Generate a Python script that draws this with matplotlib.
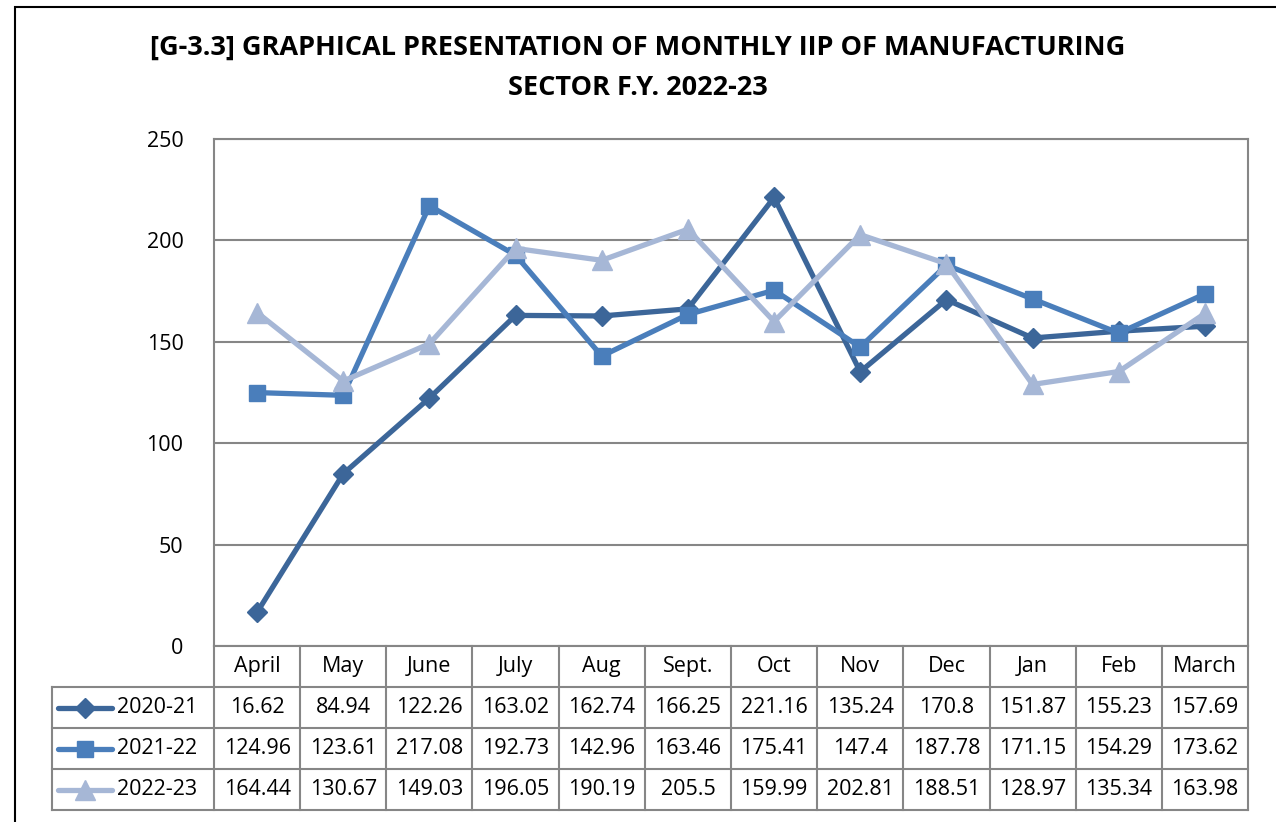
import numpy as np
import matplotlib.pyplot as plt
from matplotlib.lines import Line2D
from matplotlib.patches import Rectangle
from matplotlib.transforms import blended_transform_factory

plt.rcParams["font.family"] = ["Open Sans", "DejaVu Sans"]

months = ["April", "May", "June", "July", "Aug", "Sept.", "Oct", "Nov", "Dec", "Jan", "Feb", "March"]
series_names = ["2020-21", "2021-22", "2022-23"]
iip_2020_21 = [16.62, 84.94, 122.26, 163.02, 162.74, 166.25, 221.16, 135.24, 170.8, 151.87, 155.23, 157.69]
iip_2021_22 = [124.96, 123.61, 217.08, 192.73, 142.96, 163.46, 175.41, 147.4, 187.78, 171.15, 154.29, 173.62]
iip_2022_23 = [164.44, 130.67, 149.03, 196.05, 190.19, 205.5, 159.99, 202.81, 188.51, 128.97, 135.34, 163.98]

W, H = 1276, 822
fig = plt.figure(figsize=(W / 100, H / 100), dpi=100)


def fx(px):
    return px / W


def fy(py):
    return 1 - py / H


# outer chart border
fig.patches.append(Rectangle((fx(15), fy(H + 10)), 1.0, fy(7) - fy(H + 10),
                             transform=fig.transFigure, fill=False,
                             edgecolor="black", linewidth=1.5))

left, right, top, bottom = 214, 1248, 139, 646
ax = fig.add_axes([fx(left), fy(bottom), fx(right) - fx(left), fy(top) - fy(bottom)])

styles = [
    dict(color="#3C6699", marker="D", markersize=10),
    dict(color="#4A7EBB", marker="s", markersize=12),
    dict(color="#A6B7D6", marker="^", markersize=14),
]
data = [iip_2020_21, iip_2021_22, iip_2022_23]
x = np.arange(len(months))
for vals, st in zip(data, styles):
    ax.plot(x, vals, linewidth=3.8, color=st["color"], marker=st["marker"],
            markersize=st["markersize"], markeredgecolor=st["color"], zorder=3)

ax.set_xlim(-0.5, len(months) - 0.5)
ax.set_ylim(0, 250)
ax.set_yticks([0, 50, 100, 150, 200, 250])
ax.set_xticks([])
ax.yaxis.grid(True, color="#868686", linewidth=1.5)
ax.set_axisbelow(True)
for s in ax.spines.values():
    s.set_color("#868686")
    s.set_linewidth(1.5)
ax.tick_params(axis="y", length=0, pad=22, labelsize=15.5)

fig.text(0.5, fy(48), "[G-3.3] GRAPHICAL PRESENTATION OF MONTHLY IIP OF MANUFACTURING",
         ha="center", va="center", fontsize=19.5, fontweight="bold")
fig.text(0.5, fy(88), "SECTOR F.Y. 2022-23",
         ha="center", va="center", fontsize=19.5, fontweight="bold")

# data table under the plot
grid_c = "#868686"
row_lines = [646, 687, 728, 769, 810]
tr = blended_transform_factory(ax.transData, fig.transFigure)
for i in range(len(months) + 1):
    fig.add_artist(Line2D([fx(left + i * (right - left) / len(months))] * 2,
                          [fy(row_lines[0]), fy(row_lines[-1])],
                          color=grid_c, linewidth=1.5))
fig.add_artist(Line2D([fx(52)] * 2, [fy(row_lines[1]), fy(row_lines[-1])],
                      color=grid_c, linewidth=1.5))
for r in row_lines[1:]:
    fig.add_artist(Line2D([fx(52), fx(right)], [fy(r), fy(r)], color=grid_c, linewidth=1.5))

for i, m in enumerate(months):
    fig.text(i, fy((row_lines[0] + row_lines[1]) / 2), m, transform=tr,
             ha="center", va="center", fontsize=15.5)

for k, (name, vals, st) in enumerate(zip(series_names, data, styles)):
    yc = fy((row_lines[k + 1] + row_lines[k + 2]) / 2)
    for i, v in enumerate(vals):
        fig.text(i, yc, f"{v:g}", transform=tr, ha="center", va="center", fontsize=15.5)
    fig.add_artist(Line2D([fx(58), fx(112)], [yc, yc], color=st["color"], linewidth=3.8,
                          solid_capstyle="round"))
    fig.add_artist(Line2D([fx(85)], [yc], color=st["color"], marker=st["marker"],
                          markersize=st["markersize"], markeredgecolor=st["color"]))
    fig.text(fx(117), yc, name, ha="left", va="center", fontsize=15.5)

fig.savefig("out.png", dpi=100)
